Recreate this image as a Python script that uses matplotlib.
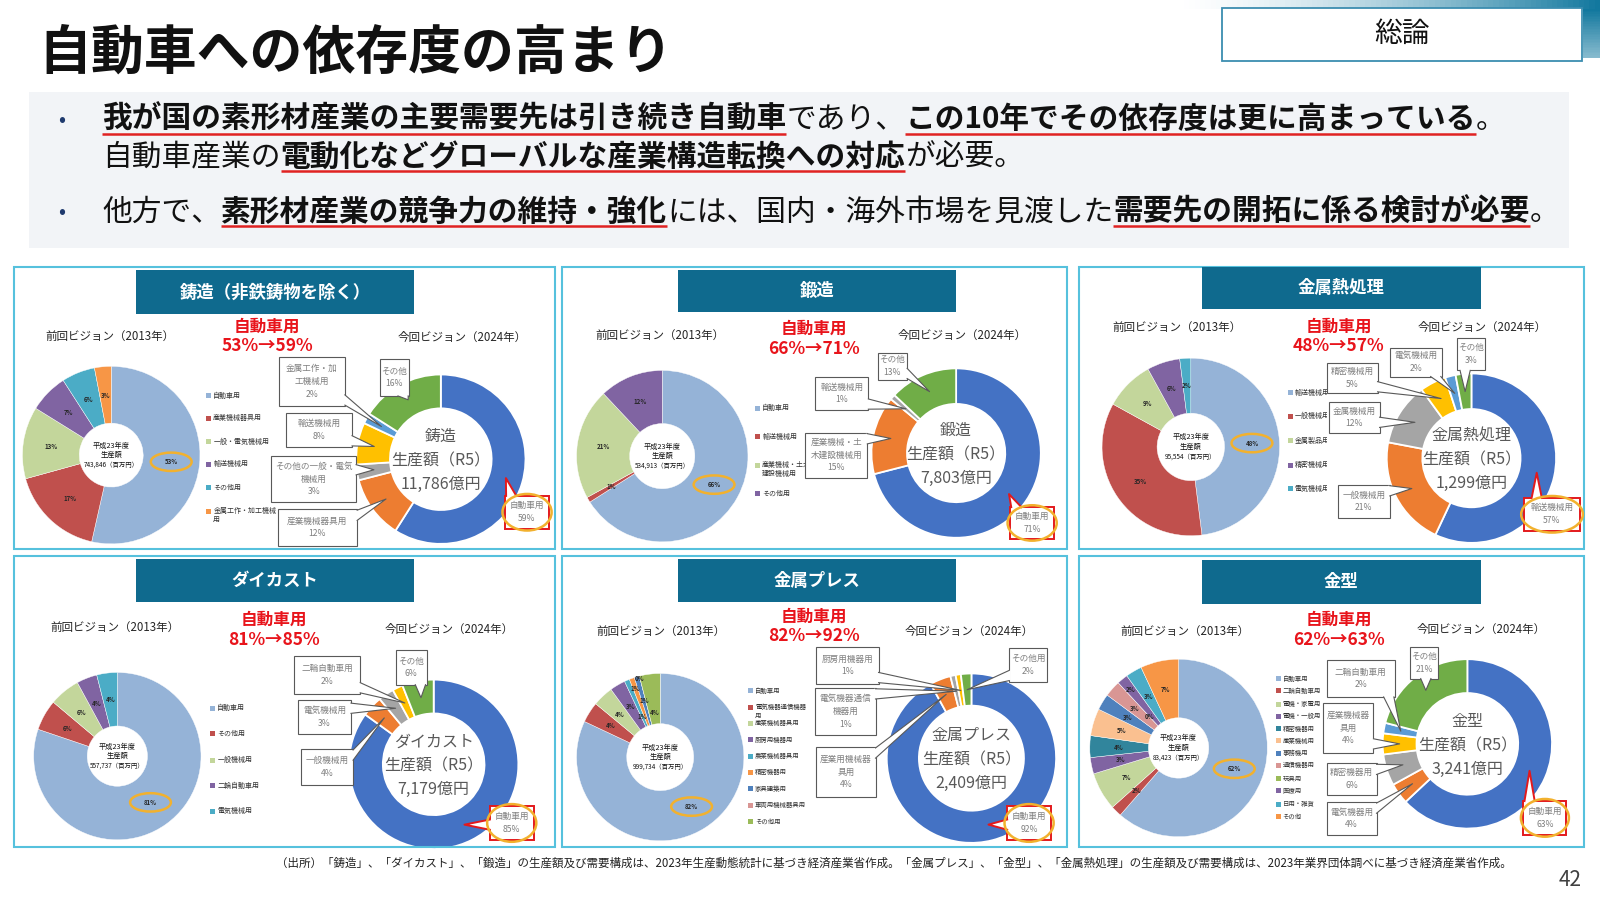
import numpy as np
import matplotlib
matplotlib.use("Agg")
import matplotlib.pyplot as plt
from matplotlib.patches import Rectangle, Ellipse, Polygon

plt.rcParams['font.family'] = ['Noto Sans CJK JP', 'DejaVu Sans']

# ============================ DATA ============================
slide_title = '自動車への依存度の高まり'
section_label = '総論'
page_number = '42'
source_note = ('（出所）「鋳造」、「ダイカスト」、「鍛造」の生産額及び需要構成は、2023年生産動態統計に基づき経済産業省作成。'
               '「金属プレス」、「金型」、「金属熱処理」の生産額及び需要構成は、2023年業界団体調べに基づき経済産業省作成。')

bullet_line1 = [('我が国の素形材産業の主要需要先は引き続き自動車', True), ('であり、', False),
                ('この10年でその依存度は更に高まっている', True), ('。', False)]
bullet_line2 = [('自動車産業の', False), ('電動化などグローバルな産業構造転換への対応', True), ('が必要。', False)]
bullet_line3 = [('他方で、', False), ('素形材産業の競争力の維持・強化', True),
                ('には、国内・海外市場を見渡した', False), ('需要先の開拓に係る検討が必要', True), ('。', False)]

panel_titles = ['鋳造（非鉄鋳物を除く）', '鍛造', '金属熱処理', 'ダイカスト', '金属プレス', '金型']
center_names = ['鋳造', '鍛造', '金属熱処理', 'ダイカスト', '金属プレス', '金型']
output_2013 = ['743,846', '534,913', '95,554', '557,737', '999,734', '83,423']   # 百万円 (平成23年度)
output_2024 = ['11,786', '7,803', '1,299', '7,179', '2,409', '3,241']          # 億円 (R5)

casting_2013_cats = ['自動車用', '産業機械器具用', '一般・電気機械用', '輸送機械用', 'その他用', '金属工作・加工機械\n用']
casting_2013_vals = [53, 17, 13, 7, 6, 3]
casting_2024_cats = ['自動車用', '産業機械器具用', 'その他の一般・電気\n機械用', '輸送機械用', '金属工作・加\n工機械用', 'その他']
casting_2024_vals = [59, 12, 3, 8, 2, 16]

forging_2013_cats = ['自動車用', '輸送機械用', '産業機械・土木\n建設機械用', 'その他用']
forging_2013_vals = [66, 1, 21, 12]
forging_2024_cats = ['自動車用', '産業機械・土\n木建設機械用', '輸送機械用', 'その他']
forging_2024_vals = [71, 15, 1, 13]

heat_2013_cats = ['輸送機械用', '一般機械用', '金属製品用', '精密機械用', '電気機械用']
heat_2013_vals = [48, 35, 9, 6, 2]
heat_2024_cats = ['輸送機械用', '一般機械用', '金属機械用', '精密機械用', '電気機械用', 'その他']
heat_2024_vals = [57, 21, 12, 5, 2, 3]

die_2013_cats = ['自動車用', 'その他用', '一般機械用', '二輪自動車用', '電気機械用']
die_2013_vals = [81, 6, 6, 4, 4]
die_2024_cats = ['自動車用', '一般機械用', '電気機械用', '二輪自動車用', 'その他']
die_2024_vals = [85, 4, 3, 2, 6]

press_2013_cats = ['自動車用', '電気機器通信機器\n用', '産業機械器具用', '厨房用機器用', '農業機械器具用',
                   '精密機器用', '家具建築用', '車両用機械器具用', 'その他用']
press_2013_vals = [82, 4, 4, 3, 1, 1, 1, 0, 4]
press_2024_cats = ['自動車用', '産業用機械器\n具用', '電気機器通信\n機器用', '厨房用機器用', 'その他用']
press_2024_vals = [92, 4, 1, 1, 2]

mold_2013_cats = ['自動車用', '二輪自動車用', '電機・家電用', '電機・一般用', '精密機器用', '産業機械用',
                  '事務機用', '通信機器用', '玩具用', '医療用', '日用・雑貨', 'その他']
mold_2013_vals = [62, 2, 7, 3, 4, 5, 3, 3, 0, 2, 3, 7]
mold_2024_cats = ['自動車用', '電気機器用', '精密機器用', '産業機械器\n具用', '二輪自動車用', 'その他']
mold_2024_vals = [63, 4, 6, 4, 2, 21]

cats13 = [casting_2013_cats, forging_2013_cats, heat_2013_cats, die_2013_cats, press_2013_cats, mold_2013_cats]
vals13 = [casting_2013_vals, forging_2013_vals, heat_2013_vals, die_2013_vals, press_2013_vals, mold_2013_vals]
cats24 = [casting_2024_cats, forging_2024_cats, heat_2024_cats, die_2024_cats, press_2024_cats, mold_2024_cats]
vals24 = [casting_2024_vals, forging_2024_vals, heat_2024_vals, die_2024_vals, press_2024_vals, mold_2024_vals]

# ============================ STYLE / LAYOUT ============================
W, H = 1568.0, 882.0   # layout frame (scaled to 1600x900 output)

C13 = {'lb': '#95B3D7', 'rd': '#C0504D', 'lg': '#C3D69B', 'pu': '#8064A2', 'te': '#4BACC6',
       'or': '#F79646', 'dt': '#31859C', 'lo': '#FAC090', 'bl': '#4F81BD', 'pk': '#D99694', 'gr': '#9BBB59'}
C24 = {'bl': '#4472C4', 'or': '#ED7D31', 'gy': '#A5A5A5', 'ye': '#FFC000', 'lb': '#5B9BD5', 'gr': '#70AD47'}
col13 = [['lb', 'rd', 'lg', 'pu', 'te', 'or'],
         ['lb', 'rd', 'lg', 'pu'],
         ['lb', 'rd', 'lg', 'pu', 'te'],
         ['lb', 'rd', 'lg', 'pu', 'te'],
         ['lb', 'rd', 'lg', 'pu', 'te', 'or', 'bl', 'pk', 'gr'],
         ['lb', 'rd', 'lg', 'pu', 'dt', 'lo', 'bl', 'pk', 'gr', 'pu', 'te', 'or']]
col24 = [['bl', 'or', 'gy', 'ye', 'lb', 'gr'],
         ['bl', 'or', 'gy', 'gr'],
         ['bl', 'or', 'gy', 'ye', 'lb', 'gr'],
         ['bl', 'or', 'gy', 'ye', 'gr'],
         ['bl', 'or', 'gy', 'ye', 'gr'],
         ['bl', 'or', 'gy', 'ye', 'lb', 'gr']]

panel_rects = [(14, 262, 544, 538), (551, 262, 1046, 538), (1057, 262, 1552, 538),
               (14, 545, 544, 830), (551, 545, 1046, 830), (1057, 545, 1552, 830)]
title_rects = [(133, 265, 406, 308), (664, 265, 937, 306), (1178, 262, 1451, 303),
               (133, 548, 406, 590), (664, 548, 937, 590), (1178, 549, 1451, 592)]
hdr_pos = [(108, 330, 262, 320, 339, 453, 331), (647, 329, 798, 322, 342, 943, 329),
           (1153, 321, 1312, 320, 339, 1453, 321), (113, 615, 268, 607, 627, 440, 617),
           (648, 619, 798, 604, 623, 950, 619), (1161, 619, 1312, 607, 627, 1452, 617)]
geo13 = [(109, 446, 87, 0.36), (649, 447, 84, 0.38), (1167, 438, 87, 0.38),
         (115, 741, 82, 0.36), (647, 742, 82, 0.40), (1155, 733, 87, 0.34)]
geo24 = [(432, 450, 83, 0.60), (937, 444, 83, 0.58), (1442, 449, 83, 0.58),
         (425, 749, 83, 0.60), (952, 743, 83, 0.62), (1438, 729, 83, 0.60)]
legend_geo = [(202, [388, 410, 433, 455, 478, 501], 5.0, None),
              (740, [400, 428, 456, 484], 5.0, None),
              (1262, [385, 408, 432, 456, 479], 5.0, 1300),
              (206, [694, 719, 745, 770, 795], 5.0, None),
              (733, [677, 693, 709, 725, 741, 757, 773, 789, 805], 4.6, None),
              (1250, [665, 677, 690, 702, 714, 726, 738, 750, 763, 775, 788, 800], 4.6, 1297)]
call_boxes = [
    [(495, 486, 538, 518), (272, 499, 350, 535), (266, 447, 349, 492), (280, 405, 345, 438), (273, 350, 338, 398), (372, 352, 401, 388)],
    [(990, 497, 1033, 528), (789, 424, 850, 468), (799, 369, 851, 402), (860, 346, 889, 372)],
    [(1494, 488, 1548, 520), (1311, 475, 1362, 508), (1302, 394, 1352, 424), (1300, 356, 1350, 385), (1362, 341, 1413, 369), (1428, 331, 1455, 363)],
    [(480, 790, 523, 823), (295, 734, 346, 769), (292, 686, 344, 719), (288, 643, 353, 680), (388, 637, 418, 671)],
    [(987, 790, 1030, 823), (800, 732, 858, 781), (799, 674, 858, 720), (800, 634, 861, 670), (989, 635, 1026, 668)],
    [(1493, 785, 1535, 818), (1300, 786, 1349, 818), (1300, 748, 1349, 779), (1297, 689, 1346, 738), (1300, 647, 1367, 683), (1382, 634, 1409, 665)],
]

TEAL = '#0F6A8E'
FRAME = '#56C1DD'
RED = '#E8141B'
ORING = '#F2B12E'
GREYTXT = '#7F7F7F'

# ============================ FIGURE ============================
fig = plt.figure(figsize=(16, 9), dpi=100)
fig.patch.set_facecolor('white')
bg = fig.add_axes([0, 0, 1, 1], zorder=0)
fg = fig.add_axes([0, 0, 1, 1], zorder=20)
for a in (bg, fg):
    a.set_xlim(0, W)
    a.set_ylim(H, 0)
    a.axis('off')
renderer = fig.canvas.get_renderer()


def text_width(t):
    return t.get_window_extent(renderer=renderer).width * W / 1600.0


def measure(segs, fs):
    total = 0.0
    for s, b in segs:
        t = fg.text(0, 0, s, fontsize=fs, fontweight='bold' if b else 'normal')
        total += text_width(t)
        t.remove()
    return total


def rich_line(segs, x0, yb, fs):
    x = x0
    for s, b in segs:
        t = fg.text(x, yb, s, fontsize=fs, fontweight='bold' if b else 'normal',
                    va='baseline', ha='left', color='#111111')
        wd = text_width(t)
        if b:
            fg.plot([x, x + wd], [yb + 5.5, yb + 5.5], color='#E02222', lw=1.8, solid_capstyle='butt')
        x += wd


# ---------------- header ----------------
n = 80
for i in range(n):
    f = i / (n - 1)
    x0 = 1150 + (1568 - 1150) * i / n
    c = np.array([1, 1, 1]) * (1 - f ** 1.5) + np.array([0.07, 0.47, 0.62]) * f ** 1.5
    bg.add_patch(Rectangle((x0, 0), (1568 - 1150) / n + 0.5, 9, color=c, lw=0))
for i in range(30):
    f = i / 29
    c = np.array([0.07, 0.47, 0.62]) * (1 - 0.5 * f) + np.array([1, 1, 1]) * 0.5 * f
    bg.add_patch(Rectangle((1551, 9 + i * 1.6), 17, 1.7, color=c, lw=0))
fg.add_patch(Rectangle((1198, 8), 352, 52, facecolor='white', edgecolor='#3C8DB0', lw=1.3))
fg.text(1374, 33, section_label, fontsize=20, ha='center', va='center', color='#111111')

t = fg.text(0, 0, slide_title, fontsize=36, fontweight='bold')
fs_title = 36 * 622 / text_width(t)
t.remove()
fg.text(38, 52, slide_title, fontsize=fs_title, fontweight='bold', va='center', ha='left', color='#111111')

bg.add_patch(Rectangle((28, 90), 1510, 153, facecolor='#F2F4F7', edgecolor='none'))
fs_b = 20 * 1425 / measure(bullet_line3, 20)
rich_line(bullet_line1, 100, 125.5, fs_b)
rich_line(bullet_line2, 100, 162, fs_b)
rich_line(bullet_line3, 100, 216, fs_b)
for yb in (118, 208):
    fg.text(60, yb, '•', fontsize=15, ha='center', va='center', color='#1F3A6E')

t = fg.text(0, 0, source_note, fontsize=8)
fs_src = 8 * 1217 / text_width(t)
t.remove()
fg.text(270, 846, source_note, fontsize=fs_src, ha='left', va='center', color='#222222')
fg.text(1550, 862, page_number, fontsize=15, ha='right', va='center', color='#404040')


# ---------------- donut helpers ----------------
def draw_donut(cx, cy, R, hole, vals, colors, ec, lw, clip):
    ax = fig.add_axes([(cx - R) / W, 1 - (cy + R) / H, 2 * R / W, 2 * R / H], zorder=5)
    wedges, _ = ax.pie(vals, colors=colors, startangle=90, counterclock=False, radius=1.0,
                       wedgeprops=dict(width=1 - hole, edgecolor=ec, linewidth=lw))
    ax.set_xlim(-1, 1)
    ax.set_ylim(-1, 1)
    ax.set_aspect('auto')
    ax.axis('off')
    cr = Rectangle((clip[0] + 1, clip[1] + 1), clip[2] - clip[0] - 2, clip[3] - clip[1] - 2,
                   transform=bg.transData)
    for w in wedges:
        w.set_clip_path(cr)
    fr = np.asarray(vals, float)
    fr = fr / fr.sum()
    return (np.cumsum(fr) - fr / 2) * 2 * np.pi


def ring_pt(cx, cy, R, ang, r):
    return cx + r * R * np.sin(ang), cy - r * R * np.cos(ang)


def callout(box, target, txt, ec, lw, fs, tcol, z=30):
    x0, y0, x1, y1 = box
    tx, ty = target
    dx = max(x0 - tx, 0, tx - x1)
    dy = max(y0 - ty, 0, ty - y1)
    if dx >= dy:
        ex = x0 if tx < x0 else x1
        inward = 1.5 if tx < x0 else -1.5
        hw = min(5, (y1 - y0) / 4)
        by = min(max(ty, y0 + hw + 1), y1 - hw - 1)
        p1, p2 = (ex, by - hw), (ex, by + hw)
        q1, q2 = (ex + inward, by - hw), (ex + inward, by + hw)
    else:
        ey = y0 if ty < y0 else y1
        inward = 1.5 if ty < y0 else -1.5
        hw = min(5, (x1 - x0) / 4)
        bx = min(max(tx, x0 + hw + 1), x1 - hw - 1)
        p1, p2 = (bx - hw, ey), (bx + hw, ey)
        q1, q2 = (bx - hw, ey + inward), (bx + hw, ey + inward)
    fg.add_patch(Rectangle((x0, y0), x1 - x0, y1 - y0, facecolor='white', edgecolor=ec, lw=lw, zorder=z))
    fg.add_patch(Polygon([q1, p1, (tx, ty), p2, q2], closed=True, facecolor='white', edgecolor='none', zorder=z + 1))
    fg.plot([p1[0], tx, p2[0]], [p1[1], ty, p2[1]], color=ec, lw=lw, zorder=z + 2)
    fg.text((x0 + x1) / 2, (y0 + y1) / 2, txt, fontsize=fs, color=tcol, ha='center', va='center',
            linespacing=1.55, zorder=z + 3)


def place_labels(cx, cy, R, hole, mids):
    """pick a radius per slice label so that small labels do not collide"""
    rmid = (1 + hole) / 2
    span = 1 - hole
    tries = [rmid, rmid - 0.28 * span, rmid + 0.28 * span, rmid - 0.45 * span, rmid + 0.45 * span,
             1.08, 1.2]
    placed = []
    out = []
    for a in mids:
        best = None
        for r in tries:
            x, y = ring_pt(cx, cy, R, a, r)
            if all(abs(x - px) > 10.5 or abs(y - py) > 7.0 for px, py in placed):
                best = (x, y)
                break
        if best is None:
            best = ring_pt(cx, cy, R, a, rmid)
        placed.append(best)
        out.append(best)
    return out


# ---------------- panels ----------------
for k in range(6):
    px0, py0, px1, py1 = panel_rects[k]
    fg.add_patch(Rectangle((px0, py0), px1 - px0, py1 - py0, facecolor='none', edgecolor=FRAME, lw=1.5, zorder=25))
    tx0, ty0, tx1, ty1 = title_rects[k]
    fg.add_patch(Rectangle((tx0, ty0), tx1 - tx0, ty1 - ty0, facecolor=TEAL, edgecolor='none', zorder=26))
    fg.text((tx0 + tx1) / 2, (ty0 + ty1) / 2, panel_titles[k], fontsize=12.5, fontweight='bold',
            color='white', ha='center', va='center', zorder=27)

    lx, ly, rx, ry1, ry2, qx, qy = hdr_pos[k]
    fg.text(lx, ly, '前回ビジョン（2013年）', fontsize=8.3, ha='center', va='center', color='#262626')
    fg.text(qx, qy, '今回ビジョン（2024年）', fontsize=8.3, ha='center', va='center', color='#262626')
    fg.text(rx, ry1, '自動車用', fontsize=12, fontweight='bold', ha='center', va='center', color=RED)
    fg.text(rx, ry2, f'{vals13[k][0]}%→{vals24[k][0]}%', fontsize=12.5, fontweight='bold',
            ha='center', va='center', color=RED)

    # ---- 2013 donut ----
    cx, cy, R, hole = geo13[k]
    mids = draw_donut(cx, cy, R, hole, vals13[k], [C13[c] for c in col13[k]], 'white', 0.3, panel_rects[k])
    pos = place_labels(cx, cy, R, hole, mids)
    for j, (v, (xx, yy)) in enumerate(zip(vals13[k], pos)):
        fg.text(xx, yy, f'{v}%', fontsize=4.4, fontweight='bold', color='#262626',
                ha='center', va='center', zorder=12)
        if j == 0:
            fg.add_patch(Ellipse((xx, yy), 40, 18, facecolor='none', edgecolor=ORING, lw=1.8, zorder=13))
    fg.text(cx, cy - 9.5, '平成23年度', fontsize=5.2, ha='center', va='center', color='#111111')
    fg.text(cx, cy, '生産額', fontsize=5.2, ha='center', va='center', color='#111111')
    fg.text(cx, cy + 9.5, f'{output_2013[k]}（百万円）', fontsize=4.6, ha='center', va='center', color='#111111')

    # legend
    lgx, lys, lfs, clipx = legend_geo[k]
    for c, lab, yy in zip(col13[k], cats13[k], lys):
        fg.add_patch(Rectangle((lgx, yy - 2.5), 5, 5, facecolor=C13[c], edgecolor='none'))
        nl = lab.count('\n')
        tt = fg.text(lgx + 7, yy + nl * 3.9, lab, fontsize=lfs, ha='left', va='center',
                     color='#333333', linespacing=1.15)
        if clipx is not None:
            tt.set_clip_on(True)
            tt.set_clip_path(Rectangle((lgx, 0), clipx - lgx, H, transform=fg.transData))

    # ---- 2024 donut ----
    cx, cy, R, hole = geo24[k]
    mids = draw_donut(cx, cy, R, hole, vals24[k], [C24[c] for c in col24[k]], 'white', 1.3, panel_rects[k])
    rmid = (1 + hole) / 2
    fg.text(cx, cy - 22, center_names[k], fontsize=11.5, ha='center', va='center', color='#595959', zorder=12)
    fg.text(cx, cy + 2, '生産額（R5）', fontsize=11.5, ha='center', va='center', color='#595959', zorder=12)
    fg.text(cx, cy + 25, f'{output_2024[k]}億円', fontsize=11.5, ha='center', va='center', color='#595959', zorder=12)
    for j, (lab, v, a) in enumerate(zip(cats24[k], vals24[k], mids)):
        target = ring_pt(cx, cy, R, a, rmid)
        box = call_boxes[k][j]
        if j == 0:
            callout(box, target, f'{lab}\n{v}%', '#E3191C', 1.4, 6.2, GREYTXT)
            bx = (box[0] + box[2]) / 2
            by = (box[1] + box[3]) / 2
            fg.add_patch(Ellipse((bx, by), (box[2] - box[0]) * 1.12, (box[3] - box[1]) * 1.12,
                                 facecolor='none', edgecolor=ORING, lw=1.8, zorder=40))
        else:
            callout(box, target, f'{lab}\n{v}%', '#595959', 0.8, 6.2, GREYTXT)

fig.savefig('out.png', dpi=100, facecolor='white')
